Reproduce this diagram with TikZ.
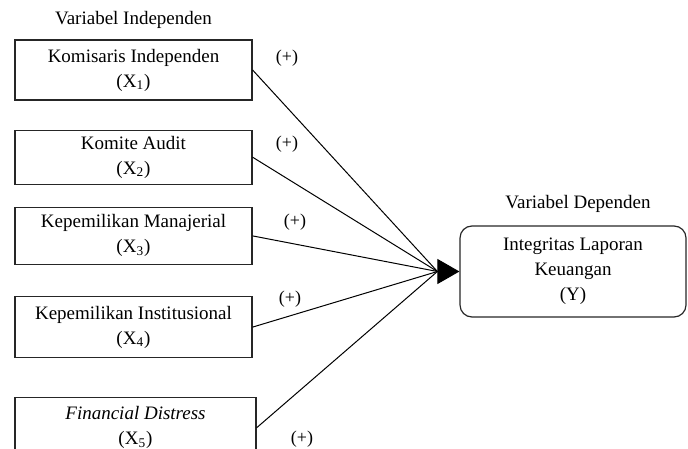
\documentclass[tikz,border=0pt]{standalone}
\usepackage{fontspec}
\setmainfont{Liberation Serif}
\usepackage{tikz}
\usetikzlibrary{arrows.meta,positioning}
\tikzset{
  varbox/.style={
    draw=black!85,
    line width=0.6pt,
    align=center,
    minimum width=118.5pt,
    inner ysep=0pt,
    font=\fontsize{9.5}{12.5}\selectfont
  },
  depbox/.style={
    varbox,
    rounded corners=6pt,
    minimum width=113pt,
    minimum height=45.5pt
  },
  title/.style={inner sep=0pt, font=\fontsize{9.5}{12}\selectfont},
  sign/.style={inner sep=0pt, font=\fontsize{9}{11}\selectfont},
  line/.style={line width=0.5pt},
  tip/.style={-{Triangle[length=11pt,width=12.5pt]}, line width=0.5pt}
}
\begin{document}
\begin{tikzpicture}[x=0.5pt,y=-0.5pt]
        \useasboundingbox (0,0) rectangle (688,448);
        \node[varbox, minimum height=30pt] (x1) at (133.5,70) {Komisaris Independen\\(X\textsubscript{1})};
        \node[varbox, minimum height=27pt, below=14.5pt of x1] (x2) {Komite Audit\\(X\textsubscript{2})};
        \node[varbox, minimum height=28.5pt, below=11pt of x2] (x3) {Kepemilikan Manajerial\\(X\textsubscript{3})};
        \node[varbox, minimum height=30.5pt, below=15.5pt of x3] (x4) {Kepemilikan Institusional\\(X\textsubscript{4})};
        \node[varbox, minimum height=30pt, minimum width=120.5pt, below=19.5pt of x4, xshift=1pt] (x5) {\textit{Financial Distress}\\(X\textsubscript{5})};
        \node[depbox] (y) at (573,271.5) {Integritas Laporan\\Keuangan\\(Y)};
        \node[title, above=5pt of x1] (indep) {Variabel Independen};
        \node[title, above=6pt of y, xshift=2.5pt] (dep) {Variabel Dependen};
        \node[sign] (plus1) at (287,58) {(+)};
        \node[sign] (plus2) at (287,144) {(+)};
        \node[sign] (plus3) at (295,222) {(+)};
        \node[sign] (plus4) at (290,299) {(+)};
        \node[sign] (plus5) at (302,439) {(+)};
        \coordinate[left=11pt of y.west] (hub);
        \draw[line] (x1.east) -- (hub);
        \draw[line] (x2.east) -- (hub);
        \draw[line] (x3.east) -- (hub);
        \draw[line] (x4.east) -- (hub);
        \draw[line] (x5.east) -- (hub);
        \draw[tip] (hub) -- (y.west);
      \end{tikzpicture}
\end{document}
